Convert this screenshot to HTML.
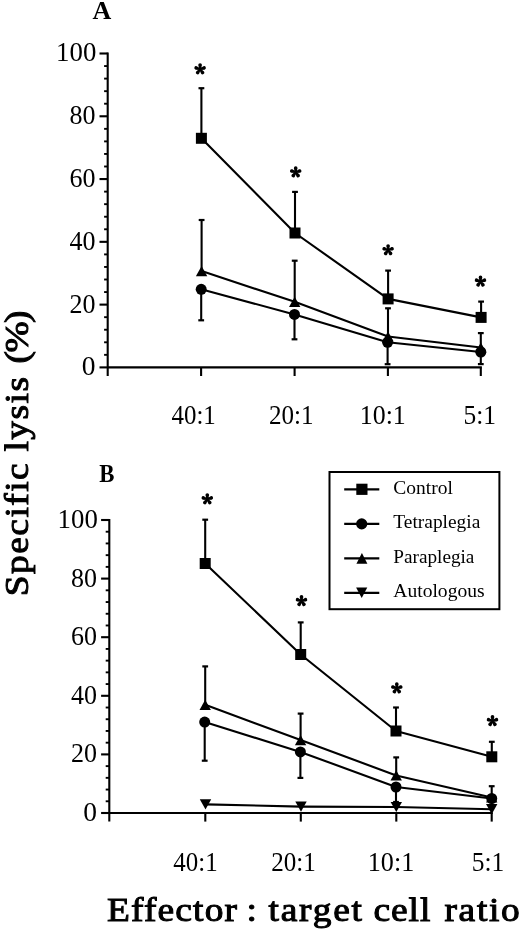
<!DOCTYPE html>
<html><head><meta charset="utf-8"><style>
html,body{margin:0;padding:0;background:#fff;}
svg{display:block;will-change:transform;}
text{font-family:"Liberation Serif", serif;fill:#000;stroke:none;}
text.t2{stroke:#000;stroke-width:1px;}
</style></head><body>
<svg width="520" height="933" viewBox="0 0 520 933" stroke="#000">
<line x1="107.70" y1="52.45" x2="107.70" y2="376.00" stroke-width="2.1"/>
<line x1="99.50" y1="367.40" x2="107.70" y2="367.40" stroke-width="2.1"/>
<line x1="104.10" y1="354.84" x2="107.70" y2="354.84" stroke-width="1.9"/>
<line x1="104.10" y1="342.29" x2="107.70" y2="342.29" stroke-width="1.9"/>
<line x1="104.10" y1="329.73" x2="107.70" y2="329.73" stroke-width="1.9"/>
<line x1="104.10" y1="317.18" x2="107.70" y2="317.18" stroke-width="1.9"/>
<line x1="99.50" y1="304.62" x2="107.70" y2="304.62" stroke-width="2.1"/>
<line x1="104.10" y1="292.06" x2="107.70" y2="292.06" stroke-width="1.9"/>
<line x1="104.10" y1="279.51" x2="107.70" y2="279.51" stroke-width="1.9"/>
<line x1="104.10" y1="266.95" x2="107.70" y2="266.95" stroke-width="1.9"/>
<line x1="104.10" y1="254.40" x2="107.70" y2="254.40" stroke-width="1.9"/>
<line x1="99.50" y1="241.84" x2="107.70" y2="241.84" stroke-width="2.1"/>
<line x1="104.10" y1="229.28" x2="107.70" y2="229.28" stroke-width="1.9"/>
<line x1="104.10" y1="216.73" x2="107.70" y2="216.73" stroke-width="1.9"/>
<line x1="104.10" y1="204.17" x2="107.70" y2="204.17" stroke-width="1.9"/>
<line x1="104.10" y1="191.62" x2="107.70" y2="191.62" stroke-width="1.9"/>
<line x1="99.50" y1="179.06" x2="107.70" y2="179.06" stroke-width="2.1"/>
<line x1="104.10" y1="166.50" x2="107.70" y2="166.50" stroke-width="1.9"/>
<line x1="104.10" y1="153.95" x2="107.70" y2="153.95" stroke-width="1.9"/>
<line x1="104.10" y1="141.39" x2="107.70" y2="141.39" stroke-width="1.9"/>
<line x1="104.10" y1="128.84" x2="107.70" y2="128.84" stroke-width="1.9"/>
<line x1="99.50" y1="116.28" x2="107.70" y2="116.28" stroke-width="2.1"/>
<line x1="104.10" y1="103.72" x2="107.70" y2="103.72" stroke-width="1.9"/>
<line x1="104.10" y1="91.17" x2="107.70" y2="91.17" stroke-width="1.9"/>
<line x1="104.10" y1="78.61" x2="107.70" y2="78.61" stroke-width="1.9"/>
<line x1="104.10" y1="66.06" x2="107.70" y2="66.06" stroke-width="1.9"/>
<line x1="99.50" y1="53.50" x2="107.70" y2="53.50" stroke-width="2.1"/>
<text x="95.50" y="375.40" font-size="27.5" text-anchor="end" font-weight="normal" textLength="13.75" lengthAdjust="spacingAndGlyphs">0</text>
<text x="95.50" y="312.62" font-size="27.5" text-anchor="end" font-weight="normal" textLength="26.0" lengthAdjust="spacingAndGlyphs">20</text>
<text x="95.50" y="249.84" font-size="27.5" text-anchor="end" font-weight="normal" textLength="26.0" lengthAdjust="spacingAndGlyphs">40</text>
<text x="95.50" y="187.06" font-size="27.5" text-anchor="end" font-weight="normal" textLength="26.0" lengthAdjust="spacingAndGlyphs">60</text>
<text x="95.50" y="124.28" font-size="27.5" text-anchor="end" font-weight="normal" textLength="26.0" lengthAdjust="spacingAndGlyphs">80</text>
<text x="96.30" y="60.50" font-size="27.5" text-anchor="end" font-weight="normal" textLength="40.2" lengthAdjust="spacingAndGlyphs">100</text>
<line x1="107.70" y1="367.40" x2="481.85" y2="367.40" stroke-width="2.1"/>
<line x1="201.10" y1="367.40" x2="201.10" y2="376.00" stroke-width="2.1"/>
<line x1="294.60" y1="367.40" x2="294.60" y2="376.00" stroke-width="2.1"/>
<line x1="387.90" y1="367.40" x2="387.90" y2="376.00" stroke-width="2.1"/>
<line x1="480.80" y1="367.40" x2="480.80" y2="376.00" stroke-width="2.1"/>
<line x1="109.30" y1="518.95" x2="109.30" y2="821.60" stroke-width="2.1"/>
<line x1="101.10" y1="813.00" x2="109.30" y2="813.00" stroke-width="2.1"/>
<line x1="105.70" y1="801.28" x2="109.30" y2="801.28" stroke-width="1.9"/>
<line x1="105.70" y1="789.56" x2="109.30" y2="789.56" stroke-width="1.9"/>
<line x1="105.70" y1="777.84" x2="109.30" y2="777.84" stroke-width="1.9"/>
<line x1="105.70" y1="766.12" x2="109.30" y2="766.12" stroke-width="1.9"/>
<line x1="101.10" y1="754.40" x2="109.30" y2="754.40" stroke-width="2.1"/>
<line x1="105.70" y1="742.68" x2="109.30" y2="742.68" stroke-width="1.9"/>
<line x1="105.70" y1="730.96" x2="109.30" y2="730.96" stroke-width="1.9"/>
<line x1="105.70" y1="719.24" x2="109.30" y2="719.24" stroke-width="1.9"/>
<line x1="105.70" y1="707.52" x2="109.30" y2="707.52" stroke-width="1.9"/>
<line x1="101.10" y1="695.80" x2="109.30" y2="695.80" stroke-width="2.1"/>
<line x1="105.70" y1="684.08" x2="109.30" y2="684.08" stroke-width="1.9"/>
<line x1="105.70" y1="672.36" x2="109.30" y2="672.36" stroke-width="1.9"/>
<line x1="105.70" y1="660.64" x2="109.30" y2="660.64" stroke-width="1.9"/>
<line x1="105.70" y1="648.92" x2="109.30" y2="648.92" stroke-width="1.9"/>
<line x1="101.10" y1="637.20" x2="109.30" y2="637.20" stroke-width="2.1"/>
<line x1="105.70" y1="625.48" x2="109.30" y2="625.48" stroke-width="1.9"/>
<line x1="105.70" y1="613.76" x2="109.30" y2="613.76" stroke-width="1.9"/>
<line x1="105.70" y1="602.04" x2="109.30" y2="602.04" stroke-width="1.9"/>
<line x1="105.70" y1="590.32" x2="109.30" y2="590.32" stroke-width="1.9"/>
<line x1="101.10" y1="578.60" x2="109.30" y2="578.60" stroke-width="2.1"/>
<line x1="105.70" y1="566.88" x2="109.30" y2="566.88" stroke-width="1.9"/>
<line x1="105.70" y1="555.16" x2="109.30" y2="555.16" stroke-width="1.9"/>
<line x1="105.70" y1="543.44" x2="109.30" y2="543.44" stroke-width="1.9"/>
<line x1="105.70" y1="531.72" x2="109.30" y2="531.72" stroke-width="1.9"/>
<line x1="101.10" y1="520.00" x2="109.30" y2="520.00" stroke-width="2.1"/>
<text x="97.00" y="821.00" font-size="27.5" text-anchor="end" font-weight="normal" textLength="13.75" lengthAdjust="spacingAndGlyphs">0</text>
<text x="97.00" y="762.40" font-size="27.5" text-anchor="end" font-weight="normal" textLength="26.0" lengthAdjust="spacingAndGlyphs">20</text>
<text x="97.00" y="703.80" font-size="27.5" text-anchor="end" font-weight="normal" textLength="26.0" lengthAdjust="spacingAndGlyphs">40</text>
<text x="97.00" y="645.20" font-size="27.5" text-anchor="end" font-weight="normal" textLength="26.0" lengthAdjust="spacingAndGlyphs">60</text>
<text x="97.00" y="586.60" font-size="27.5" text-anchor="end" font-weight="normal" textLength="26.0" lengthAdjust="spacingAndGlyphs">80</text>
<text x="97.80" y="528.00" font-size="27.5" text-anchor="end" font-weight="normal" textLength="40.2" lengthAdjust="spacingAndGlyphs">100</text>
<line x1="109.30" y1="813.00" x2="492.75" y2="813.00" stroke-width="2.1"/>
<line x1="205.30" y1="813.00" x2="205.30" y2="821.60" stroke-width="2.1"/>
<line x1="300.80" y1="813.00" x2="300.80" y2="821.60" stroke-width="2.1"/>
<line x1="396.30" y1="813.00" x2="396.30" y2="821.60" stroke-width="2.1"/>
<line x1="491.70" y1="813.00" x2="491.70" y2="821.60" stroke-width="2.1"/>
<line x1="201.40" y1="138.30" x2="201.40" y2="88.20" stroke-width="2.1"/>
<line x1="198.50" y1="88.20" x2="204.30" y2="88.20" stroke-width="2.2"/>
<line x1="295.00" y1="233.00" x2="295.00" y2="191.90" stroke-width="2.1"/>
<line x1="292.10" y1="191.90" x2="297.90" y2="191.90" stroke-width="2.2"/>
<line x1="388.10" y1="298.90" x2="388.10" y2="270.60" stroke-width="2.1"/>
<line x1="385.20" y1="270.60" x2="391.00" y2="270.60" stroke-width="2.2"/>
<line x1="481.10" y1="317.40" x2="481.10" y2="301.60" stroke-width="2.1"/>
<line x1="478.20" y1="301.60" x2="484.00" y2="301.60" stroke-width="2.2"/>
<line x1="201.60" y1="271.10" x2="201.60" y2="220.00" stroke-width="2.1"/>
<line x1="198.70" y1="220.00" x2="204.50" y2="220.00" stroke-width="2.2"/>
<line x1="294.70" y1="301.80" x2="294.70" y2="260.70" stroke-width="2.1"/>
<line x1="291.80" y1="260.70" x2="297.60" y2="260.70" stroke-width="2.2"/>
<line x1="388.00" y1="336.50" x2="388.00" y2="308.30" stroke-width="2.1"/>
<line x1="385.10" y1="308.30" x2="390.90" y2="308.30" stroke-width="2.2"/>
<line x1="480.80" y1="347.50" x2="480.80" y2="333.10" stroke-width="2.1"/>
<line x1="477.90" y1="333.10" x2="483.70" y2="333.10" stroke-width="2.2"/>
<line x1="201.20" y1="289.30" x2="201.20" y2="320.30" stroke-width="2.1"/>
<line x1="198.30" y1="320.30" x2="204.10" y2="320.30" stroke-width="2.2"/>
<line x1="294.50" y1="314.40" x2="294.50" y2="339.30" stroke-width="2.1"/>
<line x1="291.60" y1="339.30" x2="297.40" y2="339.30" stroke-width="2.2"/>
<line x1="387.60" y1="342.30" x2="387.60" y2="364.20" stroke-width="2.1"/>
<line x1="384.70" y1="364.20" x2="390.50" y2="364.20" stroke-width="2.2"/>
<line x1="480.80" y1="352.00" x2="480.80" y2="364.10" stroke-width="2.1"/>
<line x1="477.90" y1="364.10" x2="483.70" y2="364.10" stroke-width="2.2"/>
<polyline fill="none" stroke-width="2.1" stroke-linejoin="round" points="201.40,138.30 295.00,233.00 388.10,298.90 481.10,317.40"/>
<polyline fill="none" stroke-width="2.1" stroke-linejoin="round" points="201.60,271.10 294.70,301.80 388.00,336.50 480.80,347.50"/>
<polyline fill="none" stroke-width="2.1" stroke-linejoin="round" points="201.20,289.30 294.50,314.40 387.60,342.30 480.80,352.00"/>
<rect x="195.90" y="132.80" width="11.0" height="11.0" fill="#000" stroke="none"/>
<rect x="289.50" y="227.50" width="11.0" height="11.0" fill="#000" stroke="none"/>
<rect x="382.60" y="293.40" width="11.0" height="11.0" fill="#000" stroke="none"/>
<rect x="475.60" y="311.90" width="11.0" height="11.0" fill="#000" stroke="none"/>
<polygon fill="#000" stroke="none" points="201.60,266.00 207.30,276.20 195.90,276.20"/>
<polygon fill="#000" stroke="none" points="294.70,296.70 300.40,306.90 289.00,306.90"/>
<polygon fill="#000" stroke="none" points="388.00,331.40 393.70,341.60 382.30,341.60"/>
<polygon fill="#000" stroke="none" points="480.80,342.40 486.50,352.60 475.10,352.60"/>
<circle cx="201.20" cy="289.30" r="5.5" fill="#000" stroke="none"/>
<circle cx="294.50" cy="314.40" r="5.5" fill="#000" stroke="none"/>
<circle cx="387.60" cy="342.30" r="5.5" fill="#000" stroke="none"/>
<circle cx="480.80" cy="352.00" r="5.5" fill="#000" stroke="none"/>
<circle cx="200.10" cy="69.20" r="1.20" fill="#000" stroke="none"/>
<path d="M200.85,69.20L201.95,65.10A1.85,1.85 0 0 0 198.25,65.10L199.35,69.20ZM200.33,69.91L204.57,69.69A1.85,1.85 0 0 0 203.43,66.17L199.87,68.49ZM199.49,69.64L201.01,73.60A1.85,1.85 0 0 0 204.01,71.43L200.71,68.76ZM199.49,68.76L196.19,71.43A1.85,1.85 0 0 0 199.19,73.60L200.71,69.64ZM200.33,68.49L196.77,66.17A1.85,1.85 0 0 0 195.63,69.69L199.87,69.91Z" fill="#000" stroke="none"/>
<circle cx="295.70" cy="172.30" r="1.20" fill="#000" stroke="none"/>
<path d="M296.45,172.30L297.55,168.20A1.85,1.85 0 0 0 293.85,168.20L294.95,172.30ZM295.93,173.01L300.17,172.79A1.85,1.85 0 0 0 299.03,169.27L295.47,171.59ZM295.09,172.74L296.61,176.70A1.85,1.85 0 0 0 299.61,174.53L296.31,171.86ZM295.09,171.86L291.79,174.53A1.85,1.85 0 0 0 294.79,176.70L296.31,172.74ZM295.93,171.59L292.37,169.27A1.85,1.85 0 0 0 291.23,172.79L295.47,173.01Z" fill="#000" stroke="none"/>
<circle cx="388.10" cy="250.10" r="1.20" fill="#000" stroke="none"/>
<path d="M388.85,250.10L389.95,246.00A1.85,1.85 0 0 0 386.25,246.00L387.35,250.10ZM388.33,250.81L392.57,250.59A1.85,1.85 0 0 0 391.43,247.07L387.87,249.39ZM387.49,250.54L389.01,254.50A1.85,1.85 0 0 0 392.01,252.33L388.71,249.66ZM387.49,249.66L384.19,252.33A1.85,1.85 0 0 0 387.19,254.50L388.71,250.54ZM388.33,249.39L384.77,247.07A1.85,1.85 0 0 0 383.63,250.59L387.87,250.81Z" fill="#000" stroke="none"/>
<circle cx="480.50" cy="281.50" r="1.20" fill="#000" stroke="none"/>
<path d="M481.25,281.50L482.35,277.40A1.85,1.85 0 0 0 478.65,277.40L479.75,281.50ZM480.73,282.21L484.97,281.99A1.85,1.85 0 0 0 483.83,278.47L480.27,280.79ZM479.89,281.94L481.41,285.90A1.85,1.85 0 0 0 484.41,283.73L481.11,281.06ZM479.89,281.06L476.59,283.73A1.85,1.85 0 0 0 479.59,285.90L481.11,281.94ZM480.73,280.79L477.17,278.47A1.85,1.85 0 0 0 476.03,281.99L480.27,282.21Z" fill="#000" stroke="none"/>
<line x1="205.20" y1="563.50" x2="205.20" y2="519.70" stroke-width="2.1"/>
<line x1="202.30" y1="519.70" x2="208.10" y2="519.70" stroke-width="2.2"/>
<line x1="300.70" y1="654.50" x2="300.70" y2="622.40" stroke-width="2.1"/>
<line x1="297.80" y1="622.40" x2="303.60" y2="622.40" stroke-width="2.2"/>
<line x1="396.00" y1="731.00" x2="396.00" y2="707.50" stroke-width="2.1"/>
<line x1="393.10" y1="707.50" x2="398.90" y2="707.50" stroke-width="2.2"/>
<line x1="491.80" y1="756.80" x2="491.80" y2="741.80" stroke-width="2.1"/>
<line x1="488.90" y1="741.80" x2="494.70" y2="741.80" stroke-width="2.2"/>
<line x1="205.20" y1="704.80" x2="205.20" y2="666.40" stroke-width="2.1"/>
<line x1="202.30" y1="666.40" x2="208.10" y2="666.40" stroke-width="2.2"/>
<line x1="300.60" y1="740.10" x2="300.60" y2="713.60" stroke-width="2.1"/>
<line x1="297.70" y1="713.60" x2="303.50" y2="713.60" stroke-width="2.2"/>
<line x1="396.20" y1="775.40" x2="396.20" y2="757.40" stroke-width="2.1"/>
<line x1="393.30" y1="757.40" x2="399.10" y2="757.40" stroke-width="2.2"/>
<line x1="491.70" y1="797.50" x2="491.70" y2="786.20" stroke-width="2.1"/>
<line x1="488.80" y1="786.20" x2="494.60" y2="786.20" stroke-width="2.2"/>
<line x1="204.70" y1="722.10" x2="204.70" y2="760.70" stroke-width="2.1"/>
<line x1="201.80" y1="760.70" x2="207.60" y2="760.70" stroke-width="2.2"/>
<line x1="300.40" y1="751.90" x2="300.40" y2="777.90" stroke-width="2.1"/>
<line x1="297.50" y1="777.90" x2="303.30" y2="777.90" stroke-width="2.2"/>
<line x1="396.00" y1="787.00" x2="396.00" y2="802.00" stroke-width="2.1"/>
<line x1="393.10" y1="802.00" x2="398.90" y2="802.00" stroke-width="2.2"/>
<line x1="491.70" y1="798.50" x2="491.70" y2="806.00" stroke-width="2.1"/>
<line x1="488.80" y1="806.00" x2="494.60" y2="806.00" stroke-width="2.2"/>
<polyline fill="none" stroke-width="2.1" stroke-linejoin="round" points="205.20,563.50 300.70,654.50 396.00,731.00 491.80,756.80"/>
<polyline fill="none" stroke-width="2.1" stroke-linejoin="round" points="205.20,704.80 300.60,740.10 396.20,775.40 491.70,797.50"/>
<polyline fill="none" stroke-width="2.1" stroke-linejoin="round" points="204.70,722.10 300.40,751.90 396.00,787.00 491.70,798.50"/>
<rect x="199.70" y="558.00" width="11.0" height="11.0" fill="#000" stroke="none"/>
<rect x="295.20" y="649.00" width="11.0" height="11.0" fill="#000" stroke="none"/>
<rect x="390.50" y="725.50" width="11.0" height="11.0" fill="#000" stroke="none"/>
<rect x="486.30" y="751.30" width="11.0" height="11.0" fill="#000" stroke="none"/>
<polygon fill="#000" stroke="none" points="205.20,699.70 210.90,709.90 199.50,709.90"/>
<polygon fill="#000" stroke="none" points="300.60,735.00 306.30,745.20 294.90,745.20"/>
<polygon fill="#000" stroke="none" points="396.20,770.30 401.90,780.50 390.50,780.50"/>
<polygon fill="#000" stroke="none" points="491.70,792.40 497.40,802.60 486.00,802.60"/>
<circle cx="204.70" cy="722.10" r="5.5" fill="#000" stroke="none"/>
<circle cx="300.40" cy="751.90" r="5.5" fill="#000" stroke="none"/>
<circle cx="396.00" cy="787.00" r="5.5" fill="#000" stroke="none"/>
<circle cx="491.70" cy="798.50" r="5.5" fill="#000" stroke="none"/>
<circle cx="207.30" cy="499.20" r="1.20" fill="#000" stroke="none"/>
<path d="M208.05,499.20L209.15,495.10A1.85,1.85 0 0 0 205.45,495.10L206.55,499.20ZM207.53,499.91L211.77,499.69A1.85,1.85 0 0 0 210.63,496.17L207.07,498.49ZM206.69,499.64L208.21,503.60A1.85,1.85 0 0 0 211.21,501.43L207.91,498.76ZM206.69,498.76L203.39,501.43A1.85,1.85 0 0 0 206.39,503.60L207.91,499.64ZM207.53,498.49L203.97,496.17A1.85,1.85 0 0 0 202.83,499.69L207.07,499.91Z" fill="#000" stroke="none"/>
<circle cx="301.50" cy="601.00" r="1.20" fill="#000" stroke="none"/>
<path d="M302.25,601.00L303.35,596.90A1.85,1.85 0 0 0 299.65,596.90L300.75,601.00ZM301.73,601.71L305.97,601.49A1.85,1.85 0 0 0 304.83,597.97L301.27,600.29ZM300.89,601.44L302.41,605.40A1.85,1.85 0 0 0 305.41,603.23L302.11,600.56ZM300.89,600.56L297.59,603.23A1.85,1.85 0 0 0 300.59,605.40L302.11,601.44ZM301.73,600.29L298.17,597.97A1.85,1.85 0 0 0 297.03,601.49L301.27,601.71Z" fill="#000" stroke="none"/>
<circle cx="396.80" cy="688.30" r="1.20" fill="#000" stroke="none"/>
<path d="M397.55,688.30L398.65,684.20A1.85,1.85 0 0 0 394.95,684.20L396.05,688.30ZM397.03,689.01L401.27,688.79A1.85,1.85 0 0 0 400.13,685.27L396.57,687.59ZM396.19,688.74L397.71,692.70A1.85,1.85 0 0 0 400.71,690.53L397.41,687.86ZM396.19,687.86L392.89,690.53A1.85,1.85 0 0 0 395.89,692.70L397.41,688.74ZM397.03,687.59L393.47,685.27A1.85,1.85 0 0 0 392.33,688.79L396.57,689.01Z" fill="#000" stroke="none"/>
<circle cx="492.50" cy="721.00" r="1.20" fill="#000" stroke="none"/>
<path d="M493.25,721.00L494.35,716.90A1.85,1.85 0 0 0 490.65,716.90L491.75,721.00ZM492.73,721.71L496.97,721.49A1.85,1.85 0 0 0 495.83,717.97L492.27,720.29ZM491.89,721.44L493.41,725.40A1.85,1.85 0 0 0 496.41,723.23L493.11,720.56ZM491.89,720.56L488.59,723.23A1.85,1.85 0 0 0 491.59,725.40L493.11,721.44ZM492.73,720.29L489.17,717.97A1.85,1.85 0 0 0 488.03,721.49L492.27,721.71Z" fill="#000" stroke="none"/>
<polyline fill="none" stroke-width="2.1" stroke-linejoin="round" points="205.50,804.40 301.00,806.60 396.30,807.00 491.70,809.20"/>
<polygon fill="#000" stroke="none" points="205.50,809.50 211.20,799.30 199.80,799.30"/>
<polygon fill="#000" stroke="none" points="301.00,811.70 306.70,801.50 295.30,801.50"/>
<polygon fill="#000" stroke="none" points="396.30,812.10 402.00,801.90 390.60,801.90"/>
<polygon fill="#000" stroke="none" points="491.70,814.30 497.40,804.10 486.00,804.10"/>
<rect x="329.5" y="472" width="169.9" height="137.2" fill="none" stroke-width="2"/>
<line x1="344.20" y1="489.30" x2="379.30" y2="489.30" stroke-width="2.2"/>
<rect x="356.30" y="483.70" width="11.2" height="11.2" fill="#000" stroke="none"/>
<text x="393.3" y="493.70" font-size="18.5" text-anchor="start" font-weight="normal" textLength="59.5" lengthAdjust="spacingAndGlyphs">Control</text>
<line x1="344.20" y1="523.90" x2="379.30" y2="523.90" stroke-width="2.2"/>
<circle cx="361.70" cy="523.90" r="5.6" fill="#000" stroke="none"/>
<text x="393.3" y="528.30" font-size="18.5" text-anchor="start" font-weight="normal" textLength="87.0" lengthAdjust="spacingAndGlyphs">Tetraplegia</text>
<line x1="344.20" y1="558.40" x2="379.30" y2="558.40" stroke-width="2.2"/>
<polygon fill="#000" stroke="none" points="361.90,553.10 367.40,563.70 356.40,563.70"/>
<text x="393.3" y="562.80" font-size="18.5" text-anchor="start" font-weight="normal" textLength="81.1" lengthAdjust="spacingAndGlyphs">Paraplegia</text>
<line x1="344.20" y1="592.80" x2="379.30" y2="592.80" stroke-width="2.2"/>
<polygon fill="#000" stroke="none" points="361.70,598.10 367.30,587.50 356.10,587.50"/>
<text x="393.3" y="597.20" font-size="18.5" text-anchor="start" font-weight="normal" textLength="91.3" lengthAdjust="spacingAndGlyphs">Autologous</text>
<text x="92.5" y="18.8" font-size="26" text-anchor="start" font-weight="bold" >A</text>
<text x="99.3" y="482.2" font-size="26" text-anchor="start" font-weight="bold" textLength="15.2" lengthAdjust="spacingAndGlyphs">B</text>
<text class="t2" transform="translate(106.9,921.0) scale(1.1,1)" x="0" y="0" font-size="34" textLength="118.3" lengthAdjust="spacing">Effector</text>
<text class="t2" transform="translate(246.6,921.0) scale(1.1,1)" x="0" y="0" font-size="34" textLength="9.45" lengthAdjust="spacing">:</text>
<text class="t2" transform="translate(268.5,921.0) scale(1.1,1)" x="0" y="0" font-size="34" textLength="84.98" lengthAdjust="spacing">target</text>
<text class="t2" transform="translate(373.5,921.0) scale(1.1,1)" x="0" y="0" font-size="34" textLength="51.63" lengthAdjust="spacing">cell</text>
<text class="t2" transform="translate(444.4,921.0) scale(1.1,1)" x="0" y="0" font-size="34" textLength="68.58" lengthAdjust="spacing">ratio</text>
<text class="t2" transform="translate(28.3,596.2) rotate(-90) scale(1.1,1)" x="0" y="0" font-size="34" textLength="120.77" lengthAdjust="spacing">Specific</text>
<text class="t2" transform="translate(28.3,451.5) rotate(-90) scale(1.1,1)" x="0" y="0" font-size="34" textLength="67.81" lengthAdjust="spacing">lysis</text>
<text class="t2" transform="translate(28.3,363.4) rotate(-90) scale(1.1,1)" x="0" y="0" font-size="34" textLength="48.06" lengthAdjust="spacing">(%)</text>
<text x="171.5" y="423.5" font-size="27.5" text-anchor="start" font-weight="normal" textLength="44.3" lengthAdjust="spacingAndGlyphs">40:1</text>
<text x="268.9" y="423.5" font-size="27.5" text-anchor="start" font-weight="normal" textLength="44.6" lengthAdjust="spacingAndGlyphs">20:1</text>
<text x="359.8" y="423.5" font-size="27.5" text-anchor="start" font-weight="normal" textLength="46.0" lengthAdjust="spacingAndGlyphs">10:1</text>
<text x="463.5" y="423.5" font-size="27.5" text-anchor="start" font-weight="normal" textLength="32.5" lengthAdjust="spacingAndGlyphs">5:1</text>
<text x="173.3" y="870.8" font-size="27.5" text-anchor="start" font-weight="normal" textLength="44.3" lengthAdjust="spacingAndGlyphs">40:1</text>
<text x="271.2" y="870.8" font-size="27.5" text-anchor="start" font-weight="normal" textLength="44.6" lengthAdjust="spacingAndGlyphs">20:1</text>
<text x="367.8" y="870.8" font-size="27.5" text-anchor="start" font-weight="normal" textLength="46.4" lengthAdjust="spacingAndGlyphs">10:1</text>
<text x="471.7" y="870.8" font-size="27.5" text-anchor="start" font-weight="normal" textLength="32.5" lengthAdjust="spacingAndGlyphs">5:1</text>
</svg>
</body></html>
